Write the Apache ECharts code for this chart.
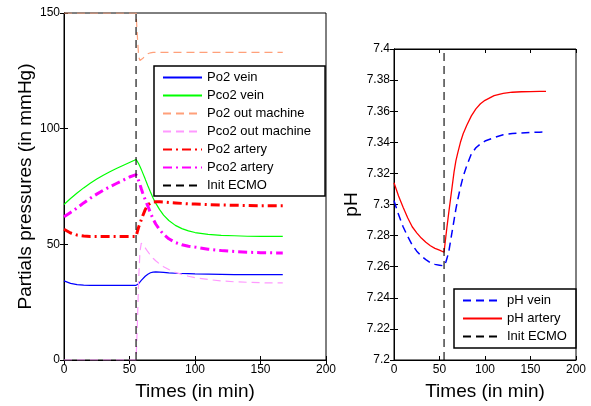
<!DOCTYPE html>
<html>
<head>
<meta charset="utf-8">
<script src="https://cdn.jsdelivr.net/npm/echarts@6/dist/echarts.min.js"></script>
<style>html,body{margin:0;padding:0;background:#fff}#c{width:591px;height:406px}</style>
</head>
<body>
<div id="c"></div>
<script>
// ---- data ----
const ecmoTime = 55;
const tLeft = [0,5,10,15,20,25,30,35,40,45,50,55,56,57,58,59,60,62,64,66,68,70,73,76,80,85,90,95,100,110,120,130,140,150,160,167];
const po2Vein =      [34.2,33.1,32.6,32.4,32.3,32.3,32.3,32.3,32.3,32.3,32.3,32.3,32.5,33.0,33.7,34.4,35.0,36.2,37.1,37.7,38.0,38.1,38.0,37.9,37.7,37.5,37.4,37.3,37.2,37.1,37.0,36.9,36.9,36.9,36.9,36.9];
const pco2Vein =     [67.2,69.8,72.2,74.4,76.4,78.2,79.9,81.4,82.8,84.1,85.4,86.7,85.8,84.8,83.6,82.4,81.0,78.2,75.3,72.6,70.0,67.8,65.0,62.6,60.3,58.2,56.8,55.8,55.1,54.3,53.9,53.7,53.5,53.4,53.4,53.4];
const po2Machine =   [150,150,150,150,150,150,150,150,150,150,150,150,140,131,129.5,129.7,130.3,131.5,132.4,132.8,133,133,133,133,133,133,133,133,133,133,133,133,133,133,133,133];
const pco2Machine =  [0,0,0,0,0,0,0,0,0,0,0,0,15,35,47,50.5,50.5,48.5,46.8,45.3,44.0,42.9,41.5,40.3,39.1,37.9,37.0,36.2,35.6,34.8,34.2,33.8,33.6,33.4,33.3,33.3];
const po2Artery =    [56.5,54.9,54.0,53.6,53.4,53.4,53.4,53.4,53.4,53.4,53.4,53.4,55.5,57.5,59.0,60.6,62.2,65.0,67.0,67.9,68.3,68.4,68.4,68.3,68.1,67.9,67.7,67.5,67.4,67.2,67.0,66.9,66.8,66.7,66.7,66.7];
const pco2Artery =   [61.9,63.8,65.7,67.9,69.9,71.7,73.4,74.9,76.3,77.7,79.1,80.1,79.0,77.5,75.8,74.0,72.3,69.3,66.5,63.6,61.0,58.8,56.3,54.3,52.4,50.8,49.8,49.2,48.8,47.9,47.3,46.9,46.6,46.4,46.3,46.3];

const tRight = [0,5,10,15,20,25,30,35,40,45,50,55,56,57,58,60,62,64,66,68,70,73,76,80,85,90,95,100,110,120,130,140,150,160,167];
const phVein =   [7.3025,7.2935,7.2857,7.2795,7.274,7.270,7.2668,7.2645,7.2626,7.2615,7.261,7.2605,7.2615,7.263,7.265,7.269,7.276,7.283,7.290,7.297,7.303,7.311,7.318,7.325,7.3325,7.3365,7.339,7.3408,7.343,7.3448,7.3456,7.346,7.3463,7.3465,7.3466];
const phArtery = [7.314,7.3055,7.2983,7.2915,7.2857,7.2818,7.2784,7.2757,7.2735,7.2718,7.2706,7.2693,7.2745,7.2795,7.2845,7.294,7.303,7.312,7.321,7.328,7.333,7.340,7.3455,7.351,7.357,7.3615,7.3648,7.367,7.370,7.3715,7.3722,7.3725,7.3726,7.3727,7.3727];

const xTicksLeft = {min:0, max:200, interval:50};
const yTicksLeft = {min:0, max:150, interval:50};
const yTicksRight = {min:7.2, max:7.4, interval:0.02};

// ---- chart ----
const FONT = '"Liberation Sans", Arial, Helvetica, sans-serif';
const zip = (t, v) => t.map((x, i) => [x, v[i]]);
const DASH = [8,5];
const DASHDOT = [9,4,2,4];

function baseAxis(extra) {
  return Object.assign({
    type: 'value',
    axisLine: {show: true, lineStyle: {color: '#000', width: 1}},
    axisTick: {show: true, inside: true, length: 4, lineStyle: {color: '#000'}},
    axisLabel: {show: true, color: '#000', fontSize: 12, fontFamily: FONT, margin: 4},
    splitLine: {show: false}
  }, extra);
}
function secAxis(extra) {
  const a = baseAxis(extra);
  a.axisLabel = {show: false};
  return a;
}

const nameStyle = {color: '#000', fontSize: 19, fontFamily: FONT};
const legendCommon = {
  orient: 'vertical', itemGap: 5, itemWidth: 39, itemHeight: 14,
  backgroundColor: '#fff', borderColor: '#000', borderWidth: 1.5,
  textStyle: {color: '#000', fontSize: 13, fontFamily: FONT},
  itemStyle: {opacity: 0},
  selectedMode: false
};

const option = {
  animation: false,
  backgroundColor: '#fff',
  textStyle: {fontFamily: FONT},
  grid: [
    {left: 64, top: 13, width: 262, height: 354, show: true, borderColor: '#000', borderWidth: 1},
    {left: 394, top: 49, width: 182, height: 317, show: true, borderColor: '#000', borderWidth: 1}
  ],
  xAxis: [
    baseAxis(Object.assign({gridIndex: 0, position: 'bottom', name: 'Times (in min)', nameLocation: 'middle', nameGap: 22, nameTextStyle: nameStyle}, xTicksLeft)),
    secAxis(Object.assign({gridIndex: 0, position: 'top'}, xTicksLeft)),
    baseAxis(Object.assign({gridIndex: 1, position: 'bottom', name: 'Times (in min)', nameLocation: 'middle', nameGap: 22, nameTextStyle: nameStyle}, xTicksLeft)),
    secAxis(Object.assign({gridIndex: 1, position: 'top'}, xTicksLeft))
  ],
  yAxis: [
    baseAxis(Object.assign({gridIndex: 0, position: 'left', name: 'Partials pressures (in mmHg)', nameLocation: 'middle', nameGap: 29, nameTextStyle: nameStyle}, yTicksLeft)),
    secAxis(Object.assign({gridIndex: 0, position: 'right'}, yTicksLeft)),
    baseAxis(Object.assign({gridIndex: 1, position: 'left', name: 'pH', nameLocation: 'middle', nameGap: 33, nameTextStyle: nameStyle,
      axisLabel: {show: true, color: '#000', fontSize: 12, fontFamily: FONT, margin: 4, formatter: v => String(parseFloat(v.toFixed(2)))}}, yTicksRight)),
    secAxis(Object.assign({gridIndex: 1, position: 'right'}, yTicksRight))
  ],
  legend: [
    Object.assign({
      data: ['Po2 vein','Pco2 vein','Po2 out machine','Pco2 out machine','Po2 artery','Pco2 artery','Init ECMO'],
      left: 154, top: 66, padding: [5, 14, 4, 8]
    }, legendCommon),
    Object.assign({
      data: ['pH vein','pH artery','Init ECMO'],
      left: 454, top: 289, padding: [5, 9, 5, 8]
    }, legendCommon)
  ],
  series: [
    {name: 'Po2 vein', type: 'line', xAxisIndex: 0, yAxisIndex: 0, symbol: 'none', data: zip(tLeft, po2Vein), lineStyle: {color: '#0000ff', width: 1.2}, itemStyle: {color: '#0000ff'}},
    {name: 'Pco2 vein', type: 'line', xAxisIndex: 0, yAxisIndex: 0, symbol: 'none', data: zip(tLeft, pco2Vein), lineStyle: {color: '#00ff00', width: 1.2}, itemStyle: {color: '#00ff00'}},
    {name: 'Po2 out machine', type: 'line', xAxisIndex: 0, yAxisIndex: 0, symbol: 'none', data: zip(tLeft, po2Machine), lineStyle: {color: '#ffa07a', width: 1.2, type: DASH}, itemStyle: {color: '#ffa07a'}},
    {name: 'Pco2 out machine', type: 'line', xAxisIndex: 0, yAxisIndex: 0, symbol: 'none', data: zip(tLeft, pco2Machine), lineStyle: {color: '#ff99ff', width: 1.2, type: DASH}, itemStyle: {color: '#ff99ff'}},
    {name: 'Po2 artery', type: 'line', xAxisIndex: 0, yAxisIndex: 0, symbol: 'none', data: zip(tLeft, po2Artery), lineStyle: {color: '#ff0000', width: 3, type: DASHDOT}, itemStyle: {color: '#ff0000'}},
    {name: 'Pco2 artery', type: 'line', xAxisIndex: 0, yAxisIndex: 0, symbol: 'none', data: zip(tLeft, pco2Artery), lineStyle: {color: '#ff00ff', width: 3, type: DASHDOT}, itemStyle: {color: '#ff00ff'}},
    {name: 'Init ECMO', type: 'line', xAxisIndex: 0, yAxisIndex: 0, symbol: 'none', data: [[ecmoTime, yTicksLeft.min], [ecmoTime, yTicksLeft.max]], lineStyle: {color: '#000', width: 1.1, type: DASH}, itemStyle: {color: '#000'}},

    {name: 'pH vein', type: 'line', xAxisIndex: 2, yAxisIndex: 2, symbol: 'none', data: zip(tRight, phVein), lineStyle: {color: '#0000ff', width: 1.5, type: DASH}, itemStyle: {color: '#0000ff'}},
    {name: 'pH artery', type: 'line', xAxisIndex: 2, yAxisIndex: 2, symbol: 'none', data: zip(tRight, phArtery), lineStyle: {color: '#ff0000', width: 1.3}, itemStyle: {color: '#ff0000'}},
    {name: 'Init ECMO', type: 'line', xAxisIndex: 2, yAxisIndex: 2, symbol: 'none', data: [[ecmoTime, yTicksRight.min], [ecmoTime, yTicksRight.max]], lineStyle: {color: '#000', width: 1.1, type: DASH}, itemStyle: {color: '#000'}}
  ]
};
const chart = echarts.init(document.getElementById('c'), null, {renderer: 'canvas'});
chart.setOption(option);
</script>
</body>
</html>
